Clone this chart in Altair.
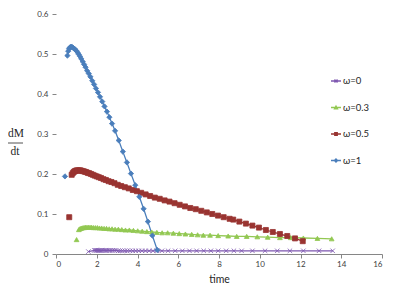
import altair as alt
import pandas as pd

# ---------------- data ----------------
labels = ["ω=0", "ω=0.3", "ω=0.5", "ω=1"]
colors = ["#7E57B0", "#92C852", "#993431", "#4A7EBB"]

t_w1 = [0.44, 0.56, 0.60, 0.64, 0.68, 0.72, 0.76, 0.80, 0.85, 0.90, 0.95, 1.00,
        1.06, 1.12, 1.18, 1.24, 1.31, 1.38, 1.45, 1.53, 1.61, 1.69, 1.78, 1.87, 1.96,
        2.06, 2.16, 2.27, 2.38, 2.50, 2.62, 2.75, 2.90,
        3.08, 3.28, 3.48, 3.68, 3.89, 4.09, 4.30, 4.51, 4.73, 4.97]
v_w1 = [0.194, 0.496, 0.507, 0.513, 0.516, 0.518, 0.518, 0.517, 0.515, 0.513, 0.511, 0.508,
        0.504, 0.499, 0.494, 0.488, 0.481, 0.474, 0.467, 0.458, 0.451, 0.443, 0.433, 0.424, 0.414,
        0.404, 0.393, 0.381, 0.369, 0.356, 0.342, 0.326, 0.308,
        0.284, 0.256, 0.229, 0.201, 0.172, 0.143, 0.113, 0.081, 0.046, 0.010]

t_w05 = [0.65, 0.77, 0.82, 0.87, 0.92, 0.97, 1.02, 1.08, 1.14, 1.20, 1.26, 1.33, 1.40, 1.47,
         1.55, 1.63, 1.72, 1.81, 1.90, 2.00,
         2.10, 2.21, 2.33, 2.45, 2.58, 2.72, 2.87, 3.03, 3.20, 3.38, 3.57, 3.77, 3.97,
         4.18, 4.40, 4.62, 4.85, 5.09, 5.33, 5.57, 5.82,
         6.07, 6.33, 6.59, 6.86, 7.13, 7.40, 7.67, 7.95,
         8.23, 8.52, 8.70, 9.00, 9.32, 9.64, 9.96, 10.30, 10.64, 10.99, 11.35, 11.73, 12.11]
v_w05 = [0.092, 0.198, 0.202, 0.205, 0.207, 0.208, 0.209, 0.209, 0.209, 0.209, 0.208, 0.207, 0.206, 0.205,
         0.203, 0.202, 0.200, 0.198, 0.196, 0.194,
         0.192, 0.190, 0.187, 0.185, 0.182, 0.180, 0.177, 0.173, 0.170, 0.167, 0.164, 0.160, 0.157,
         0.153, 0.149, 0.145, 0.141, 0.138, 0.134, 0.131, 0.127,
         0.123, 0.119, 0.115, 0.112, 0.108, 0.104, 0.100, 0.096,
         0.092, 0.088, 0.086, 0.081, 0.076, 0.071, 0.066, 0.060, 0.055, 0.050, 0.045, 0.039, 0.032]

t_w03 = [1.01, 1.12, 1.17, 1.22, 1.27, 1.33, 1.39, 1.45, 1.52, 1.59, 1.67, 1.75, 1.84, 1.93, 2.03,
         2.13, 2.24, 2.36, 2.48, 2.61, 2.75, 2.90, 3.06,
         3.23, 3.41, 3.60, 3.80, 4.01, 4.23, 4.46, 4.70, 4.95,
         5.21, 5.48, 5.76, 6.05, 6.35, 6.66, 6.95, 7.23,
         7.56, 7.96, 8.45, 8.87, 9.36, 9.88, 10.39, 10.99, 11.52, 12.14, 12.83, 13.53]
v_w03 = [0.036, 0.061, 0.063, 0.064, 0.065, 0.066, 0.066, 0.067, 0.067, 0.067, 0.067, 0.067, 0.066, 0.066, 0.066,
         0.065, 0.065, 0.064, 0.064, 0.063, 0.063, 0.062, 0.062,
         0.061, 0.060, 0.060, 0.059, 0.058, 0.057, 0.056, 0.055, 0.054,
         0.053, 0.053, 0.052, 0.051, 0.050, 0.049, 0.048, 0.047,
         0.047, 0.046, 0.045, 0.044, 0.044, 0.043, 0.042, 0.041, 0.041, 0.040, 0.039, 0.038]

t_w0 = [1.59, 1.88, 1.93, 1.98, 2.03, 2.08, 2.13, 2.18, 2.24, 2.30, 2.36, 2.42, 2.48,
        2.55, 2.62, 2.70, 2.78, 2.86, 2.95, 3.05, 3.15, 3.26, 3.38, 3.50,
        3.63, 3.77, 3.91, 4.06, 4.22, 4.39, 4.57, 4.76, 4.95,
        5.20, 5.50, 5.85, 6.20, 6.55, 6.90, 7.25, 7.60, 7.96,
        8.35, 8.73, 9.11, 9.64, 10.26, 10.86, 11.48, 12.14, 12.91, 13.58]
v_w0 = [0.006, 0.009, 0.009, 0.009, 0.009, 0.009, 0.009, 0.009, 0.009, 0.009, 0.009, 0.009, 0.009,
        0.009, 0.009, 0.009, 0.009, 0.009, 0.009, 0.008, 0.008, 0.008, 0.008, 0.008,
        0.008, 0.008, 0.008, 0.008, 0.008, 0.008, 0.008, 0.008, 0.008,
        0.008, 0.008, 0.008, 0.008, 0.008, 0.008, 0.008, 0.008, 0.008,
        0.008, 0.008, 0.008, 0.008, 0.008, 0.008, 0.008, 0.008, 0.008, 0.008]

# first sample of these series is a detached transient point (not joined by the line)
detached_first = ["ω=0.3", "ω=0.5", "ω=1"]

x_ticks = [0, 2, 4, 6, 8, 10, 12, 14, 16]
y_ticks = [0, 0.1, 0.2, 0.3, 0.4, 0.5, 0.6]

series = [("ω=0", t_w0, v_w0), ("ω=0.3", t_w03, v_w03),
          ("ω=0.5", t_w05, v_w05), ("ω=1", t_w1, v_w1)]
rows = []
for lab, ts, vs in series:
    for i, (t, v) in enumerate(zip(ts, vs)):
        rows.append({"series": lab, "t": t, "v": v,
                     "joined": not (lab in detached_first and i == 0)})
df = pd.DataFrame(rows)

FONT = "Lato"
GRAY = "#868686"

xenc = alt.X("t:Q", scale=alt.Scale(domain=[0, 16], nice=False, zero=False),
             axis=alt.Axis(values=x_ticks, title="time", grid=False, domainColor=GRAY,
                           tickColor=GRAY, tickSize=4, labelFontSize=8, labelColor="#404040",
                           labelFont=FONT, labelPadding=2, titleFont=FONT, titleFontSize=10.5,
                           titleFontWeight="normal", titleColor="#262626", titlePadding=6))
yenc = alt.Y("v:Q", scale=alt.Scale(domain=[0, 0.6], nice=False),
             axis=alt.Axis(values=y_ticks, format=".1~f", title=None, grid=False, domain=False,
                           tickColor=GRAY, tickSize=4, labelFontSize=8, labelColor="#404040",
                           labelFont=FONT, labelPadding=4))

cscale = alt.Scale(domain=labels, range=colors)
plot_shapes = ["M-1,-1L1,1M-1,1L1,-1", "triangle-up", "square", "diamond"]
legend_shapes = [
    "M-1,0H1M-0.3,-0.3L0.3,0.3M-0.3,0.3L0.3,-0.3",
    "M-1,0H1M-0.3,0.25L0,-0.3L0.3,0.25Z",
    "M-1,0H1M-0.25,-0.25H0.25V0.25H-0.25Z",
    "M-1,0H1M0,-0.32L0.32,0L0,0.32L-0.32,0Z",
]

lines = alt.Chart(df).transform_filter(alt.datum.joined).mark_line(strokeWidth=1.3).encode(
    x=xenc, y=yenc,
    color=alt.Color("series:N", scale=cscale, legend=None),
    detail="series:N",
)

points = alt.Chart(df).mark_point(filled=True, opacity=1, strokeWidth=0.8).encode(
    x=xenc, y=yenc,
    color=alt.Color("series:N", scale=cscale, legend=None),
    stroke=alt.Stroke("series:N", scale=cscale, legend=None),
    shape=alt.Shape("series:N", scale=alt.Scale(domain=labels, range=plot_shapes), legend=None),
    size=alt.Size("series:N", scale=alt.Scale(domain=labels, range=[20, 28, 24, 24]), legend=None),
)

leg_props = dict(title=None, orient="none", legendX=274, legendY=61, padding=0,
                 rowPadding=15.5, symbolSize=100, symbolStrokeWidth=1.3,
                 labelFont=FONT, labelFontSize=9.5, labelColor="#262626", labelOffset=1)
legend_layer = alt.Chart(df).transform_filter("false").mark_point(
    filled=False, size=100, strokeWidth=1.3, opacity=1).encode(
    x=xenc, y=yenc,
    color=alt.Color("series:N", scale=cscale, legend=alt.Legend(**leg_props)),
    shape=alt.Shape("series:N", scale=alt.Scale(domain=labels, range=legend_shapes),
                    legend=alt.Legend(**leg_props)),
)

one = pd.DataFrame({"k": [0]})
t_top = alt.Chart(one).mark_text(text="dM", font="Liberation Serif", fontSize=11.5,
                                 color="#262626", align="center", baseline="middle").encode(
    x=alt.value(-40), y=alt.value(120))
t_bot = alt.Chart(one).mark_text(text="dt", font="Liberation Serif", fontSize=11.5,
                                 color="#262626", align="center", baseline="middle").encode(
    x=alt.value(-41), y=alt.value(138))
t_bar = alt.Chart(one).mark_rule(color="#262626", strokeWidth=0.8).encode(
    x=alt.value(-48), x2=alt.value(-33), y=alt.value(129))

chart = alt.layer(lines, points, legend_layer, t_top, t_bot, t_bar).resolve_scale(
    color="independent", shape="independent", stroke="independent", size="independent"
).properties(
    width=326, height=240,
    autosize=alt.AutoSizeParams(type="none"),
    padding={"left": 48, "top": 6, "right": 25, "bottom": 39},
    background="white",
).configure_view(stroke=None)

chart.save("out.html", embed_options={"renderer": "svg", "actions": False})
